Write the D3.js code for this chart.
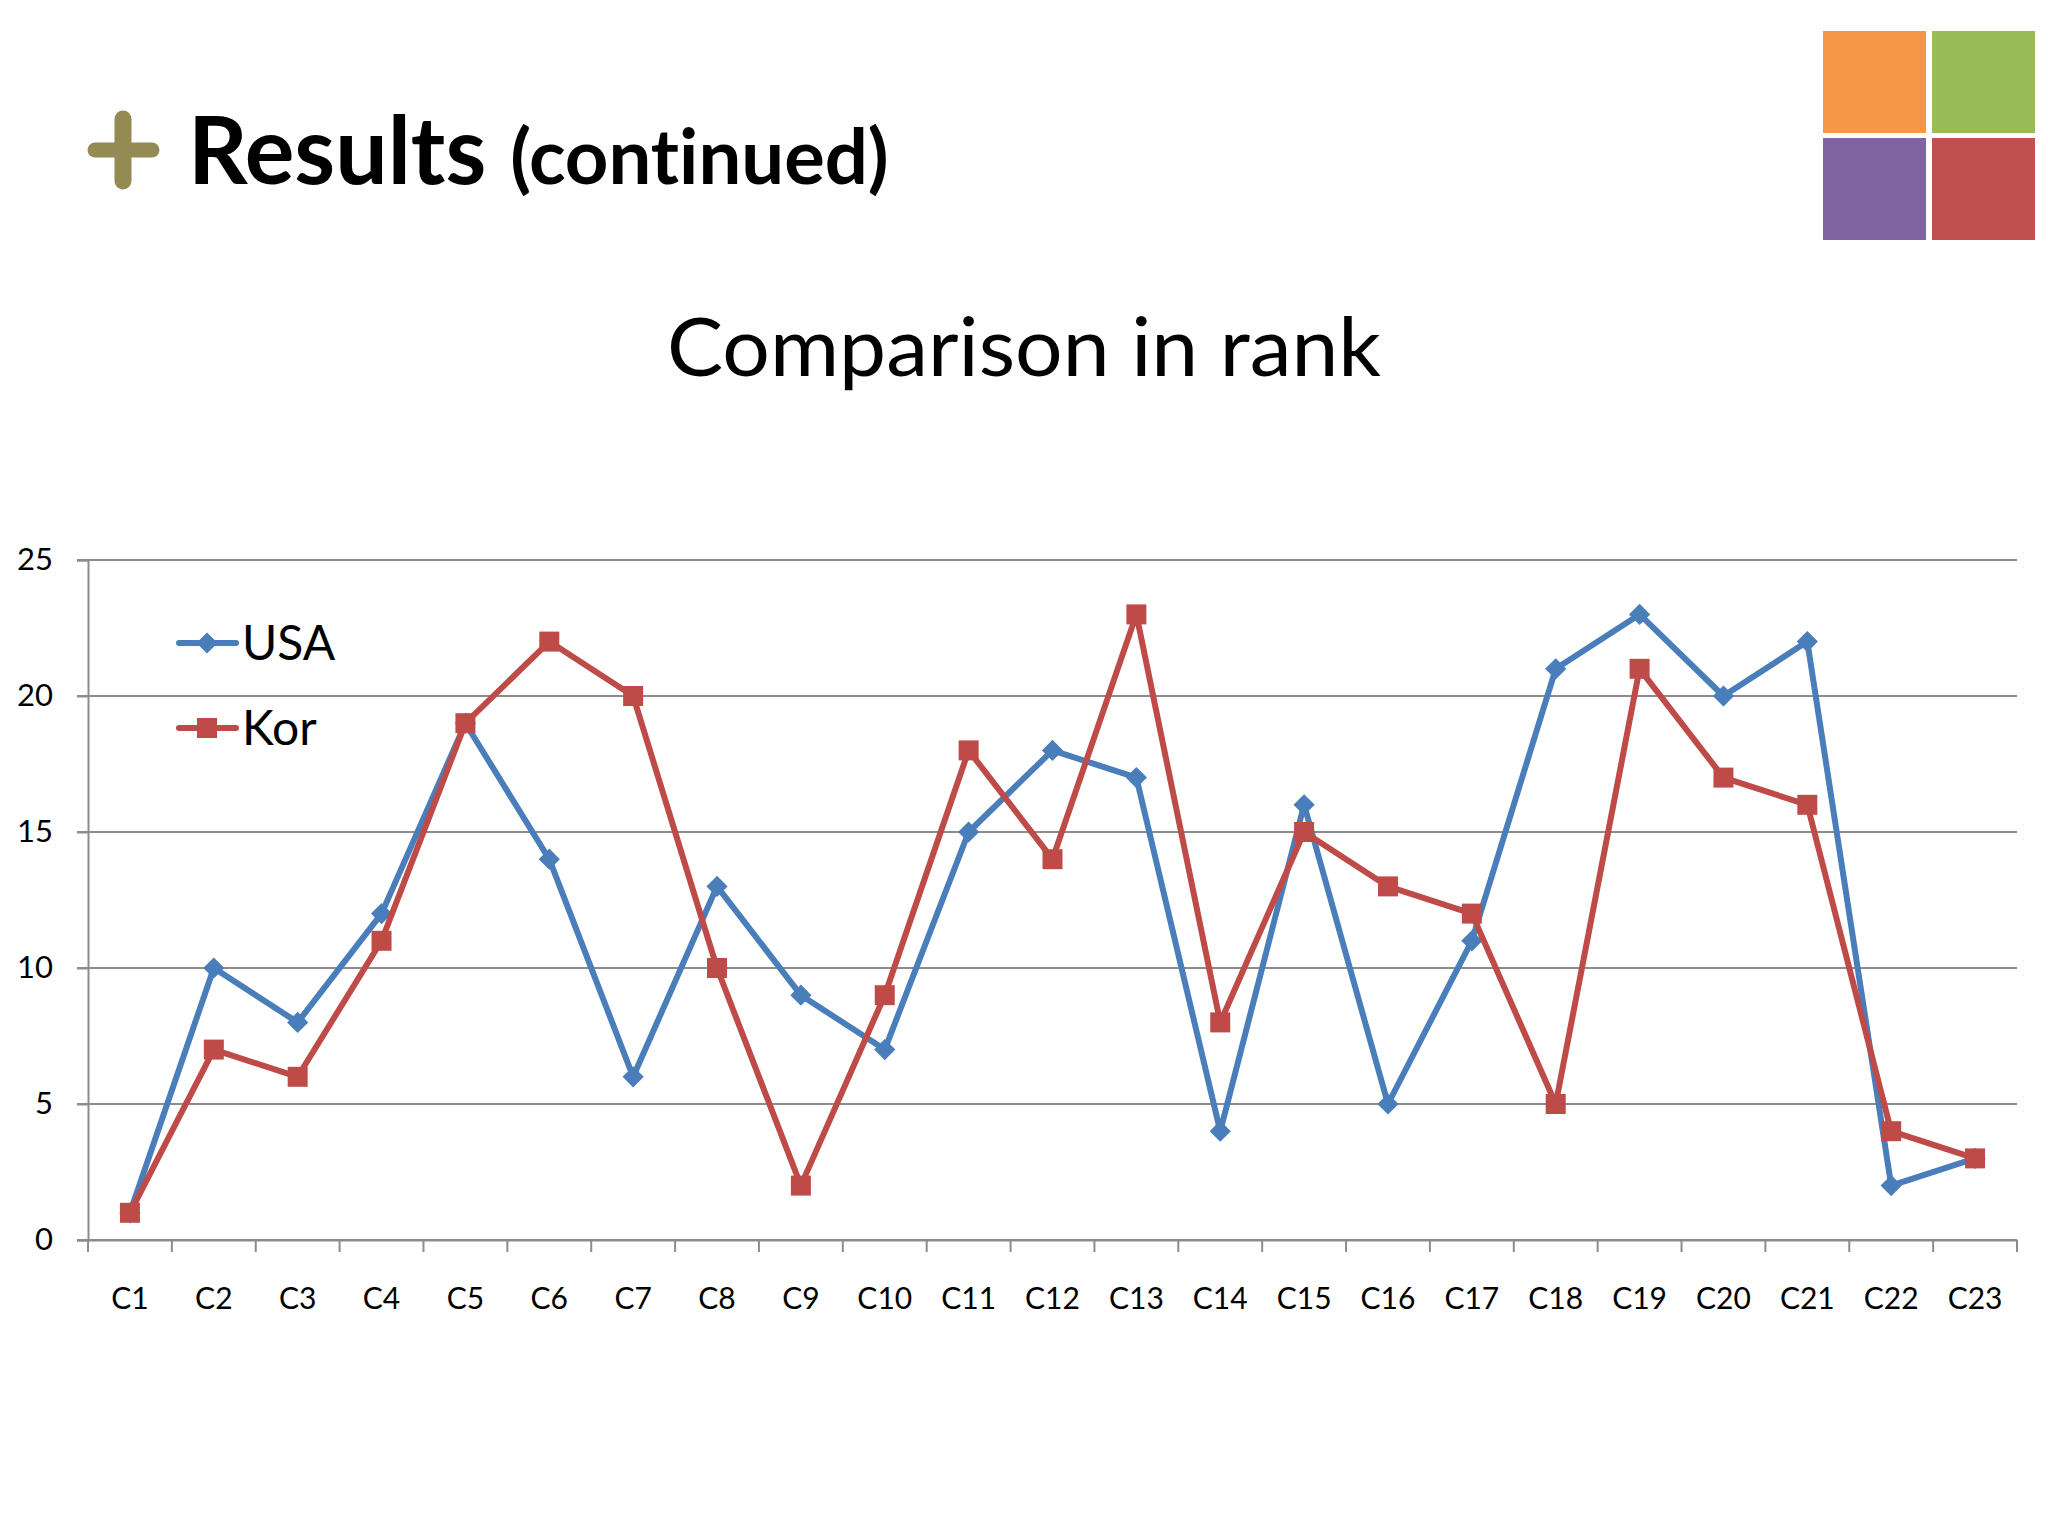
<!DOCTYPE html>
<html>
<head>
<meta charset="utf-8">
<script src="https://cdn.jsdelivr.net/npm/d3@7"></script>
<style>
  html, body { margin: 0; padding: 0; background: #ffffff; }
  svg { display: block; }
  text { font-variant-ligatures: none; font-feature-settings: "liga" 0, "clig" 0; }
</style>
</head>
<body>
<svg id="chart" width="2048" height="1536"></svg>
<script>
const categories = ["C1","C2","C3","C4","C5","C6","C7","C8","C9","C10","C11","C12","C13","C14","C15","C16","C17","C18","C19","C20","C21","C22","C23"];
const usaValues = [1,10,8,12,19,14,6,13,9,7,15,18,17,4,16,5,11,21,23,20,22,2,3];
const korValues = [1,7,6,11,19,22,20,10,2,9,18,14,23,8,15,13,12,5,21,17,16,4,3];
const yTicks = [0,5,10,15,20,25];
const seriesNames = ["USA","Kor"];

(function(){
const FONT = "Lato, 'Open Sans', sans-serif";
const svg = d3.select("#chart");

// Decorative squares (top right)
const deco = [
  {x:1823,y:31,c:"#F79646"},{x:1932,y:31,c:"#9BBB59"},
  {x:1823,y:138,c:"#8064A2"},{x:1932,y:138,c:"#C0504D"}
];
svg.selectAll("rect.deco").data(deco).join("rect")
  .attr("x",d=>d.x).attr("y",d=>d.y).attr("width",103).attr("height",102).attr("fill",d=>d.c);

// Plus sign
const plus = svg.append("g").attr("stroke","#948A54").attr("stroke-linecap","round");
plus.append("line").attr("x1",123).attr("x2",123).attr("y1",119).attr("y2",181).attr("stroke-width",17);
plus.append("line").attr("x1",95).attr("x2",152).attr("y1",150).attr("y2",150).attr("stroke-width",15);

// Header
const hdr = svg.append("text").attr("x",188).attr("y",184).attr("font-family",FONT).attr("font-weight","bold").attr("fill","#000");
hdr.append("tspan").attr("font-size",93).text("Results");
hdr.append("tspan").attr("font-size",76).attr("dx",24).text("(continued)");

// Title
svg.append("text").attr("x",1024).attr("y",376).attr("text-anchor","middle")
  .attr("font-family",FONT).attr("font-size",82).attr("fill","#000")
  .attr("textLength",714).attr("lengthAdjust","spacingAndGlyphs").text("Comparison in rank");

// Scales
const pLeft = 88, pRight = 2017, pTop = 560, pBottom = 1240;
const x = d3.scaleBand().domain(categories).range([pLeft,pRight]).paddingInner(0).paddingOuter(0);
const y = d3.scaleLinear().domain([0,25]).range([pBottom,pTop]);

// Gridlines
svg.append("g").selectAll("line").data(yTicks).join("line")
  .attr("x1",pLeft-11).attr("x2",pRight).attr("y1",d=>y(d)).attr("y2",d=>y(d))
  .attr("stroke","#8C8C8C").attr("stroke-width",2);

// Y axis
const yAxis = svg.append("g").attr("transform",`translate(${pLeft},0)`)
  .call(d3.axisLeft(y).tickValues(yTicks).tickSize(11).tickPadding(24));
yAxis.select(".domain").attr("stroke","#8C8C8C").attr("stroke-width",2);
yAxis.selectAll(".tick line").attr("stroke","#8C8C8C").attr("stroke-width",2);
yAxis.selectAll("text").attr("font-family",FONT).attr("font-size",31).attr("fill","#000");

// X axis
const xAxis = svg.append("g").attr("transform",`translate(0,${pBottom})`)
  .call(d3.axisBottom(x).tickSize(0).tickPadding(48));
xAxis.select(".domain").attr("stroke","#8C8C8C").attr("stroke-width",2);
xAxis.selectAll("text").attr("font-family",FONT).attr("font-size",30).attr("fill","#000");
const bounds = categories.map(c=>x(c)).concat([pRight]);
xAxis.append("g").selectAll("line").data(bounds).join("line")
  .attr("x1",d=>d).attr("x2",d=>d).attr("y1",0).attr("y2",12)
  .attr("stroke","#8C8C8C").attr("stroke-width",2);

const cx = c => x(c) + x.bandwidth()/2;
const series = [
  {name:seriesNames[0], values:usaValues, color:"#4A7EBB", marker:"diamond"},
  {name:seriesNames[1], values:korValues, color:"#BE4B48", marker:"square"}
];
const line = d3.line().x((d,i)=>cx(categories[i])).y(d=>y(d));
const diamond = d3.symbol().type(d3.symbolSquare).size(225);
const square = d3.symbol().type(d3.symbolSquare).size(400);

series.forEach(s=>{
  const g = svg.append("g");
  g.append("path").datum(s.values).attr("d",line).attr("fill","none")
    .attr("stroke",s.color).attr("stroke-width",6).attr("stroke-linejoin","round");
  g.selectAll("path.m").data(s.values).join("path").attr("class","m")
    .attr("d", s.marker==="diamond" ? diamond() : square())
    .attr("transform",(d,i)=>`translate(${cx(categories[i])},${y(d)})` + (s.marker==="diamond"?" rotate(45)":""))
    .attr("fill",s.color);
});

// Legend
const legY = [643, 728];
series.forEach((s,i)=>{
  const lg = svg.append("g");
  lg.append("line").attr("x1",179).attr("x2",236).attr("y1",legY[i]).attr("y2",legY[i])
    .attr("stroke",s.color).attr("stroke-width",6).attr("stroke-linecap","round");
  lg.append("path").attr("d", s.marker==="diamond" ? diamond() : square())
    .attr("transform",`translate(207,${legY[i]})` + (s.marker==="diamond"?" rotate(45)":""))
    .attr("fill",s.color);
  lg.append("text").attr("x",242).attr("y",legY[i]+17).attr("font-family",FONT)
    .attr("font-size",48).attr("fill","#000").text(s.name);
});
})();
</script>
</body>
</html>
